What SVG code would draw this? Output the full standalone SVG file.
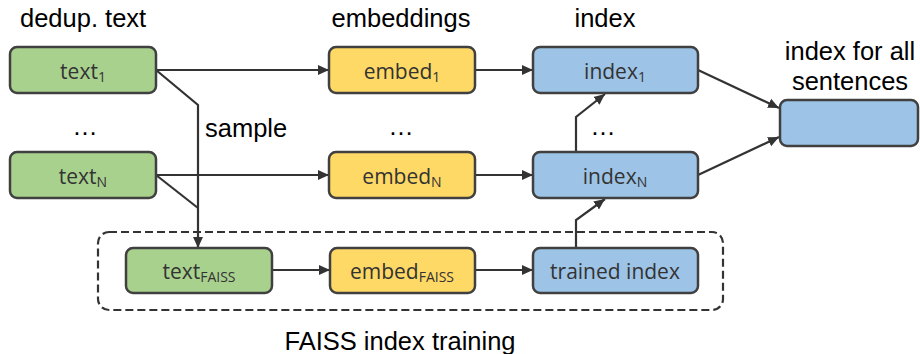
<svg xmlns="http://www.w3.org/2000/svg" width="920" height="354" viewBox="0 0 920 354">
<defs>
<marker id="ah" viewBox="0 0 10 10" refX="10" refY="5" markerWidth="5" markerHeight="5" markerUnits="strokeWidth" orient="auto">
<path d="M0,0.5 L10,5 L0,9.5 z" fill="#333"/>
</marker>
<style>
.box{stroke:#404040;stroke-width:2.5}
.g{fill:#a9d18e}.y{fill:#ffd966}.b{fill:#9dc3e6}
.lbl{font-family:"Open Sans","Liberation Sans",sans-serif;font-size:21px;fill:#333;text-anchor:middle}
.sub{font-size:14px}
.hd{font-family:"Liberation Sans",Arial,sans-serif;font-size:25.5px;fill:#000}
.c{fill:none;stroke:#333;stroke-width:2.2}
.ar{marker-end:url(#ah)}
</style>
</defs>
<rect x="0" y="0" width="920" height="354" fill="#fff"/>
<g id="headers">
<text class="hd" x="20" y="27">dedup. text</text>
<text class="hd" x="401" y="27" text-anchor="middle">embeddings</text>
<text class="hd" x="605" y="27" text-anchor="middle">index</text>
<text class="hd" x="850" y="60" text-anchor="middle">index for all</text>
<text class="hd" x="850" y="90" text-anchor="middle">sentences</text>
<text class="hd" x="205" y="137">sample</text>
<text class="hd" x="400" y="350" text-anchor="middle">FAISS index training</text>
<text class="hd" x="85" y="135" text-anchor="middle">…</text>
<text class="hd" x="401" y="135" text-anchor="middle">…</text>
<text class="hd" x="603" y="135" text-anchor="middle">…</text>
</g>
<g id="training-frame">
<rect x="98" y="232" width="625" height="78" rx="11" fill="none" stroke="#333" stroke-width="2.2" stroke-dasharray="8 4"/>
</g>
<g id="connectors">
<path class="c ar" d="M156,70 L329,70"/>
<path class="c ar" d="M156,175 L329,175"/>
<path class="c ar" d="M475,70 L533,70"/>
<path class="c ar" d="M475,175 L533,175"/>
<path class="c ar" d="M156,70 L198,105 L198,248"/>
<path class="c" d="M156,175 L198,208"/>
<path class="c ar" d="M272,270 L330,270"/>
<path class="c ar" d="M475,270 L533,270"/>
<path class="c ar" d="M576,248 L576,220 L605,199"/>
<path class="c ar" d="M576,152 L576,117 L605,94"/>
<path class="c ar" d="M698,70 L779,108"/>
<path class="c ar" d="M698,175 L779,137"/>
</g>
<g id="text1"><rect class="box g" x="10" y="47" width="146" height="46" rx="7"/><text class="lbl" x="83" y="79">text<tspan class="sub" dy="3">1</tspan></text></g>
<g id="textN"><rect class="box g" x="10" y="152" width="146" height="46" rx="7"/><text class="lbl" x="83" y="184">text<tspan class="sub" dy="3">N</tspan></text></g>
<g id="embed1"><rect class="box y" x="329" y="47" width="146" height="46" rx="7"/><text class="lbl" x="402" y="79">embed<tspan class="sub" dy="3">1</tspan></text></g>
<g id="embedN"><rect class="box y" x="329" y="152" width="146" height="46" rx="7"/><text class="lbl" x="402" y="184">embed<tspan class="sub" dy="3">N</tspan></text></g>
<g id="index1"><rect class="box b" x="533" y="47" width="165" height="46" rx="7"/><text class="lbl" x="615" y="79">index<tspan class="sub" dy="3">1</tspan></text></g>
<g id="indexN"><rect class="box b" x="533" y="152" width="165" height="46" rx="7"/><text class="lbl" x="615" y="184">index<tspan class="sub" dy="3">N</tspan></text></g>
<g id="indexAll"><rect class="box b" x="780" y="100" width="138" height="46" rx="7"/></g>
<g id="textFAISS"><rect class="box g" x="126" y="248" width="146" height="45" rx="7"/><text class="lbl" x="199" y="279">text<tspan class="sub" dy="3">FAISS</tspan></text></g>
<g id="embedFAISS"><rect class="box y" x="330" y="248" width="145" height="45" rx="7"/><text class="lbl" x="402" y="279">embed<tspan class="sub" dy="3">FAISS</tspan></text></g>
<g id="trained"><rect class="box b" x="533" y="248" width="165" height="45" rx="7"/><text class="lbl" x="615" y="279">trained index</text></g>
</svg>
